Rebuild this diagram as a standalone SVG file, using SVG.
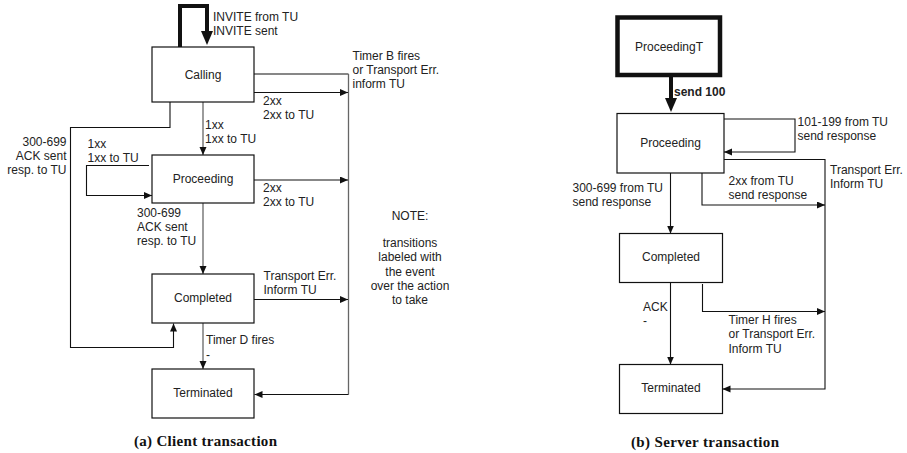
<svg xmlns="http://www.w3.org/2000/svg" width="907" height="453" viewBox="0 0 907 453">
<defs>
<marker id="arr" markerUnits="userSpaceOnUse" markerWidth="9" markerHeight="8" refX="8" refY="3.5" orient="auto">
<path d="M0,0 L8,3.5 L0,7 z" fill="#111"/>
</marker>
<marker id="thick" markerUnits="userSpaceOnUse" markerWidth="16" markerHeight="13" refX="8" refY="6" orient="auto">
<path d="M0,0 L14,6 L0,12 z" fill="#111"/>
</marker>
</defs>
<style>
text{font-family:"Liberation Sans",Arial,sans-serif;font-size:12px;fill:#222}
.c{text-anchor:middle}
.r{text-anchor:end}
.b{font-weight:bold}
.cap{font-family:"Liberation Serif","Times New Roman",serif;font-size:15px;font-weight:bold;fill:#111}
.box{fill:#fff;stroke:#111;stroke-width:1.2}
.tbox{fill:#fff;stroke:#111;stroke-width:4.5}
.ln{fill:none;stroke:#111;stroke-width:1.1}
.gl{fill:none;stroke:#666;stroke-width:1.3}
.tk{fill:none;stroke:#111;stroke-width:4}
</style>
<rect width="907" height="453" fill="#fff"/>

<g id="connectors">
<!-- client -->
<path class="tk" d="M180 47 V6 H207 V39" marker-end="url(#thick)"/>
<path class="ln" d="M254 74 H348.5"/>
<path class="gl" d="M348.5 74 V394.5"/>
<path class="ln" d="M348.5 394.5 H254.5" marker-end="url(#arr)"/>
<path class="ln" d="M254 92.5 H348" marker-end="url(#arr)"/>
<path class="gl" d="M203 102 V155" marker-end="url(#arr)"/>
<path class="ln" d="M170 102 V127.5 H70.5 V347.5 H173.5 V323.5" marker-end="url(#arr)"/>
<path class="ln" d="M149 165.5 H86.5 V195.5 H152" marker-end="url(#arr)"/>
<path class="ln" d="M254 180 H348" marker-end="url(#arr)"/>
<path class="gl" d="M203 203 V274" marker-end="url(#arr)"/>
<path class="ln" d="M254 299.5 H348" marker-end="url(#arr)"/>
<path class="gl" d="M203 323 V369" marker-end="url(#arr)"/>
<!-- server -->
<path class="tk" d="M671 77 V106" marker-end="url(#thick)"/>
<path class="ln" d="M724 119 H795 V152 H724" marker-end="url(#arr)"/>
<path class="ln" d="M724 159.5 H825 V389 H722.5" marker-end="url(#arr)"/>
<path class="ln" d="M702 173 V205 H825" marker-end="url(#arr)"/>
<path class="ln" d="M670.5 173 V233.5" marker-end="url(#arr)"/>
<path class="ln" d="M670.5 282.5 V364.5" marker-end="url(#arr)"/>
<path class="ln" d="M702.5 284 V311.5 H825" marker-end="url(#arr)"/>
</g>

<g id="calling">
<rect class="box" x="152" y="47" width="102" height="55"/>
<text class="c" x="203" y="78.5">Calling</text>
</g>
<g id="proceeding-client">
<rect class="box" x="152" y="155" width="102" height="48"/>
<text class="c" x="203" y="182.5">Proceeding</text>
</g>
<g id="completed-client">
<rect class="box" x="152" y="274" width="102" height="49"/>
<text class="c" x="203" y="301.5">Completed</text>
</g>
<g id="terminated-client">
<rect class="box" x="152" y="369" width="102" height="49"/>
<text class="c" x="203" y="397">Terminated</text>
</g>

<g id="proceedingT">
<rect class="tbox" x="617.5" y="17.5" width="102.5" height="57.5"/>
<text class="c" x="669" y="51">ProceedingT</text>
</g>
<g id="proceeding-server">
<rect class="box" x="617" y="113.5" width="107" height="59.5"/>
<text class="c" x="670.5" y="147">Proceeding</text>
</g>
<g id="completed-server">
<rect class="box" x="619.5" y="233.5" width="103" height="49"/>
<text class="c" x="671" y="261">Completed</text>
</g>
<g id="terminated-server">
<rect class="box" x="619.5" y="364.5" width="103" height="49"/>
<text class="c" x="671" y="392">Terminated</text>
</g>

<g id="labels">
<text x="213" y="21">INVITE from TU</text>
<text x="213" y="35">INVITE sent</text>
<text x="352.5" y="59.5">Timer B fires</text>
<text x="352.5" y="74">or Transport Err.</text>
<text x="352.5" y="87.5">inform TU</text>
<text x="263" y="104.5">2xx</text>
<text x="263" y="119">2xx to TU</text>
<text x="205" y="129">1xx</text>
<text x="205" y="143">1xx to TU</text>
<text class="r" x="66.5" y="145.5">300-699</text>
<text class="r" x="66.5" y="159.5">ACK sent</text>
<text class="r" x="66.5" y="173.5">resp. to TU</text>
<text x="87.5" y="147.5">1xx</text>
<text x="87.5" y="161.5">1xx to TU</text>
<text x="263" y="192">2xx</text>
<text x="263" y="206">2xx to TU</text>
<text x="137" y="216.5">300-699</text>
<text x="137" y="231">ACK sent</text>
<text x="137" y="245">resp. to TU</text>
<text x="263.5" y="279.5">Transport Err.</text>
<text x="263.5" y="294">Inform TU</text>
<text x="206" y="344">Timer D fires</text>
<text x="206" y="359">-</text>
<text class="c" x="410" y="220">NOTE:</text>
<text class="c" x="410" y="247">transitions</text>
<text class="c" x="410" y="261.3">labeled with</text>
<text class="c" x="410" y="275.6">the event</text>
<text class="c" x="410" y="290">over the action</text>
<text class="c" x="410" y="304">to take</text>

<text class="b" x="674" y="96">send 100</text>
<text x="797.5" y="125.5">101-199 from TU</text>
<text x="797.5" y="139.5">send response</text>
<text x="830" y="174">Transport Err.</text>
<text x="830" y="187.5">Inform TU</text>
<text x="728.5" y="185">2xx from TU</text>
<text x="728.5" y="198.5">send response</text>
<text x="572.5" y="192">300-699 from TU</text>
<text x="572.5" y="206">send response</text>
<text x="643" y="310.5">ACK</text>
<text x="643" y="325">-</text>
<text x="728.5" y="323.5">Timer H fires</text>
<text x="728.5" y="338">or Transport Err.</text>
<text x="728.5" y="352.5">Inform TU</text>

<text class="cap" x="134" y="446" textLength="143" lengthAdjust="spacing">(a) Client transaction</text>
<text class="cap" x="631" y="446.5" textLength="148" lengthAdjust="spacing">(b) Server transaction</text>
</g>
</svg>
